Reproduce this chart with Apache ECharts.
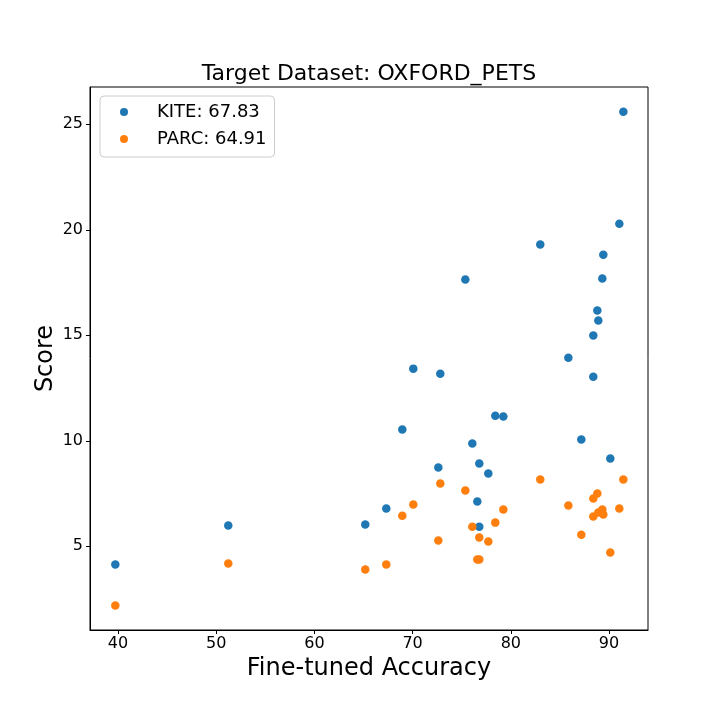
<!DOCTYPE html>
<html>
<head>
<meta charset="utf-8">
<script src="https://cdn.jsdelivr.net/npm/echarts@6/dist/echarts.min.js"></script>
<style>
html,body{margin:0;padding:0;background:#fff;}
#chart{width:720px;height:720px;}
</style>
</head>
<body>
<div id="chart"></div>
<script>
const accuracy = [39.73, 51.23, 65.18, 67.32, 68.95, 70.07, 72.62, 72.82, 75.37, 76.08, 76.59, 76.79, 76.79, 77.71, 78.42, 79.24, 83.0, 85.86, 87.18, 88.40, 88.40, 88.81, 88.91, 89.32, 89.42, 90.13, 91.05, 91.46];
const kiteScores = [4.13, 5.98, 6.03, 6.79, 10.53, 13.42, 8.73, 13.18, 17.64, 9.87, 7.12, 8.92, 5.93, 8.45, 11.19, 11.15, 19.30, 13.94, 10.06, 14.99, 13.04, 16.17, 15.70, 17.69, 18.82, 9.16, 20.29, 25.60];
const parcScores = [2.19, 4.18, 3.90, 4.13, 6.45, 6.98, 5.27, 7.97, 7.64, 5.93, 4.37, 5.41, 4.37, 5.22, 6.12, 6.74, 8.16, 6.93, 5.55, 7.26, 6.41, 7.50, 6.60, 6.74, 6.50, 4.70, 6.79, 8.16];
const seriesNames = ['KITE: 67.83', 'PARC: 64.91'];
const xTicks = [40, 50, 60, 70, 80, 90];
const yTicks = [5, 10, 15, 20, 25];
const titleText = 'Target Dataset: OXFORD_PETS';
const xLabel = 'Fine-tuned Accuracy';
const yLabel = 'Score';

const font = 'DejaVu Sans';
const chart = echarts.init(document.getElementById('chart'), null, {renderer: 'canvas'});
const pairs = (ys) => accuracy.map((x, i) => [x, ys[i]]);

chart.setOption({
  animation: false,
  backgroundColor: '#ffffff',
  title: {
    text: titleText,
    left: 364, top: 58, textAlign: 'center',
    textStyle: {fontFamily: font, fontSize: 22, fontWeight: 'normal', color: '#000'}
  },
  legend: {
    left: 100, top: 96,
    orient: 'vertical',
    padding: [6, 8, 8, 20],
    itemGap: 7,
    itemWidth: 28, itemHeight: 8,
    icon: 'circle',
    backgroundColor: 'rgba(255,255,255,0.8)',
    borderColor: '#cccccc', borderWidth: 1, borderRadius: 4,
    textStyle: {fontFamily: font, fontSize: 18, color: '#000', lineHeight: 20, padding: [0, 0, 0, 14]},
    data: seriesNames
  },
  grid: {left: 90, right: 72, top: 87, bottom: 90, show: true, borderColor: '#000', borderWidth: 1},
  xAxis: {
    type: 'value', min: 37.15, max: 93.97,
    name: xLabel, nameLocation: 'middle', nameGap: 26,
    nameTextStyle: {fontFamily: font, fontSize: 24, color: '#000'},
    axisLine: {show: true, onZero: false, lineStyle: {color: '#000', width: 1}},
    axisTick: {show: true, length: 4, lineStyle: {color: '#000'}, customValues: xTicks},
    axisLabel: {fontFamily: font, fontSize: 16, color: '#000', margin: 6, customValues: xTicks},
    splitLine: {show: false}
  },
  yAxis: {
    type: 'value', min: 1.03, max: 26.77,
    name: yLabel, nameLocation: 'middle', nameGap: 32, nameMoveOverlap: false,
    nameTextStyle: {fontFamily: font, fontSize: 24, color: '#000'},
    axisLine: {show: true, onZero: false, lineStyle: {color: '#000', width: 1}},
    axisTick: {show: true, length: 4, lineStyle: {color: '#000'}, customValues: yTicks},
    axisLabel: {fontFamily: font, fontSize: 16, color: '#000', margin: 7, customValues: yTicks},
    splitLine: {show: false}
  },
  series: [
    {name: seriesNames[0], type: 'scatter', symbolSize: 8.5, itemStyle: {color: '#1f77b4', opacity: 1}, data: pairs(kiteScores)},
    {name: seriesNames[1], type: 'scatter', symbolSize: 8.5, itemStyle: {color: '#ff7f0e', opacity: 1}, data: pairs(parcScores)}
  ]
});
</script>
</body>
</html>
